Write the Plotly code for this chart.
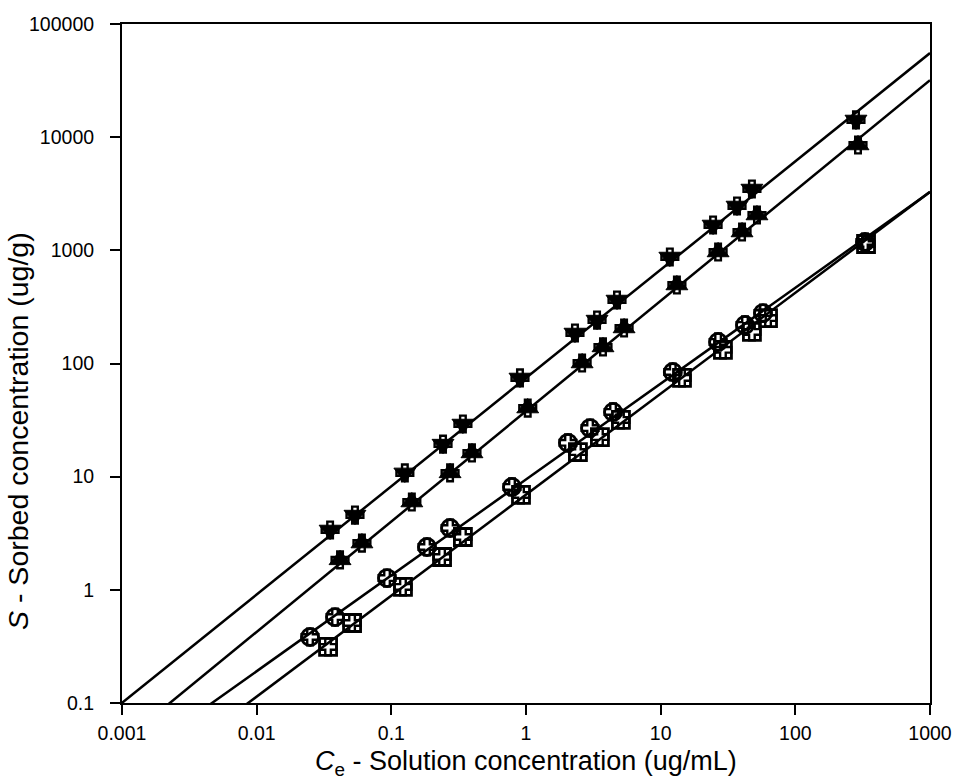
import plotly.graph_objects as go

# Series data (Ce in ug/mL, S in ug/g)
x1 = [0.0351, 0.0537, 0.126, 0.242, 0.340, 0.902, 2.31, 3.37, 4.74, 11.7, 24.5, 36.9, 47.6, 282]
y1 = [3.38, 4.58, 10.8, 19.4, 29.2, 74.5, 186, 242, 364, 873, 1675, 2465, 3483, 14190]

x2 = [0.0416, 0.0605, 0.142, 0.273, 0.397, 1.03, 2.61, 3.73, 5.35, 13.2, 26.7, 40.2, 51.9, 292]
y2 = [1.84, 2.59, 5.97, 10.8, 16.2, 40.4, 101, 140, 206, 494, 967, 1452, 2052, 8530]

x3 = [0.0249, 0.0382, 0.0929, 0.184, 0.273, 0.787, 2.05, 2.99, 4.43, 12.3, 26.7, 42.3, 57.5, 329]
y3 = [0.383, 0.575, 1.27, 2.39, 3.52, 8.11, 19.9, 26.9, 37.3, 84.1, 155, 219, 279, 1185]

x4 = [0.0339, 0.0511, 0.122, 0.238, 0.340, 0.918, 2.43, 3.54, 5.07, 14.4, 29.0, 47.6, 62.7, 335]
y4 = [0.313, 0.509, 1.06, 1.95, 2.93, 6.89, 16.5, 22.4, 31.7, 74.5, 132, 190, 252, 1138]

# Freundlich fit parameters (S = Kf * Ce^n)
fit_K = [74.5, 37.9, 9.44, 6.93]
fit_n = [0.957, 0.975, 0.847, 0.892]
fit_x = [0.001, 1000]

x_ticks = [0.001, 0.01, 0.1, 1, 10, 100, 1000]
x_ticktext = ["0.001", "0.01", "0.1", "1", "10", "100", "1000"]
y_ticks = [0.1, 1, 10, 100, 1000, 10000, 100000]
y_ticktext = ["0.1", "1", "10", "100", "1000", "10000", "100000"]

FONT = "Liberation Sans, Arial, sans-serif"

fig = go.Figure()

for K, n in zip(fit_K, fit_n):
    fig.add_trace(go.Scatter(
        x=fit_x, y=[K * xv ** n for xv in fit_x], mode="lines",
        line=dict(color="black", width=2.5), showlegend=False, hoverinfo="skip"))

series = [
    (x1, y1, "triangle-down"),
    (x2, y2, "triangle-up"),
    (x3, y3, "circle-open"),
    (x4, y4, "square-open"),
]
for xs, ys, sym in series:
    if sym.endswith("open"):
        mk = dict(symbol=sym, size=17, color="black", line=dict(color="black", width=2.8))
    else:
        mk = dict(symbol=sym, size=19, color="black", line=dict(color="black", width=1))
    fig.add_trace(go.Scatter(x=xs, y=ys, mode="markers", marker=mk,
                             showlegend=False, cliponaxis=False))
    fig.add_trace(go.Scatter(x=xs, y=ys, mode="markers",
                             marker=dict(symbol="cross-open", size=14, color="black",
                                         line=dict(color="black", width=2.4)),
                             showlegend=False, cliponaxis=False))

axis_common = dict(
    type="log", showgrid=False, zeroline=False, showline=True,
    linecolor="black", linewidth=2, mirror=True,
    ticks="outside", ticklen=10, tickwidth=2, tickcolor="black",
    tickfont=dict(family=FONT, size=19.5, color="black"),
    automargin=False,
)

fig.update_layout(
    width=957, height=781, autosize=False,
    margin=dict(l=122, r=27, t=24, b=78),
    paper_bgcolor="white", plot_bgcolor="white",
    xaxis=dict(range=[-3, 3], tickvals=x_ticks, ticktext=x_ticktext,
               ticklabelstandoff=2, **axis_common),
    yaxis=dict(range=[-1, 5], tickvals=y_ticks, ticktext=y_ticktext,
               ticklabelstandoff=12, **axis_common),
    annotations=[
        dict(text="<i>C</i><sub>e</sub> - Solution concentration (ug/mL)",
             xref="paper", yref="paper", x=0.5, y=-0.061, xanchor="center", yanchor="top",
             showarrow=False, font=dict(family=FONT, size=27, color="black")),
        dict(text="<i>S</i> - Sorbed concentration (ug/g)",
             xref="paper", yref="paper", x=-0.128, y=0.4, xanchor="center", yanchor="middle",
             textangle=-90, showarrow=False, font=dict(family=FONT, size=28.5, color="black")),
    ],
)

fig.write_html("out.html", config={"responsive": False})
